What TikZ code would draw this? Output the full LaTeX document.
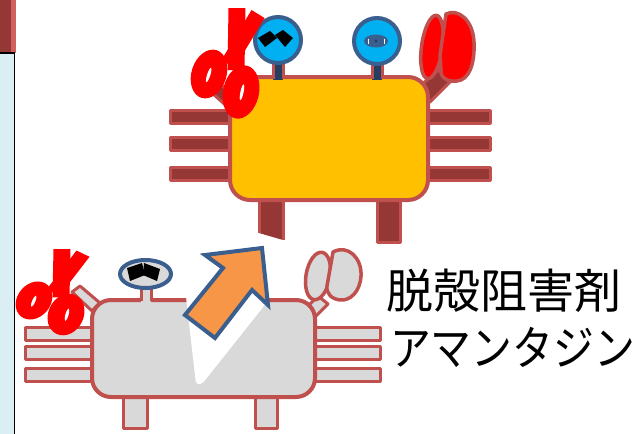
\documentclass[tikz,border=0pt]{standalone}
\usepackage{fontspec}
\newfontfamily\jpfont{Noto Sans CJK JP}
\definecolor{shellline}{HTML}{C0504D}
\definecolor{legdark}{HTML}{953735}
\definecolor{shellgold}{HTML}{FFC000}
\definecolor{shellgray}{HTML}{D9D9D9}
\definecolor{eyecyan}{HTML}{00B0F0}
\definecolor{eyeblue}{HTML}{3A5F8E}
\definecolor{stalknavy}{HTML}{243F60}
\definecolor{arroworange}{HTML}{F79646}
\definecolor{scissorred}{HTML}{FF0000}
\definecolor{panelblue}{HTML}{DAEEF3}
\definecolor{barlight}{HTML}{D0605C}
\tikzset{
  legtop/.style={fill=legdark, draw=shellline, line width=3pt},
  leggray/.style={fill=shellgray, draw=shellline, line width=3pt},
  shelltop/.style={fill=shellgold, draw=shellline, line width=4pt, rounded corners=20pt},
  shellbot/.style={fill=shellgray, draw=shellline, line width=4pt, rounded corners=19pt},
  lobetop/.style={fill=scissorred, draw=shellline, line width=3.5pt},
  lobebot/.style={fill=shellgray, draw=shellline, line width=3.5pt},
  eyering/.style={draw=eyeblue, line width=4pt},
  scissors/.pic={
    % two blades
    \fill[scissorred] (-8.5,0) -- (8.5,0) -- (7.5,62) -- (-9.5,62) -- cycle;
    \fill[scissorred] (27.5,10) -- (14.5,2) -- (-15.5,52) -- (-2.5,60) -- cycle;
    % finger rings with their slits
    \begin{scope}[shift={(-28,66)}, rotate=-18]
      \fill[scissorred] (0,0) ellipse [x radius=17.5, y radius=25];
      \fill[white] (0,1) ellipse [x radius=1.6, y radius=7.5];
    \end{scope}
    \begin{scope}[shift={(4,84)}, rotate=-12]
      \fill[scissorred] (0,0) ellipse [x radius=18, y radius=27];
      \fill[white] (1,0) ellipse [x radius=1.6, y radius=8];
    \end{scope}
  }
}
\begin{document}
\begin{tikzpicture}[x=1pt, y=-1pt, line join=round]
\useasboundingbox (0,0) rectangle (635,434);

% side panel
\fill[panelblue] (0,53) rectangle (14.2,434);
\fill[legdark] (0,0) rectangle (11,53);
\fill[barlight] (11,0) rectangle (16,53);
\draw[black, line width=1.3pt] (0,53) -- (14.2,53) -- (14.2,434);

% ---------- crab with intact shell ----------
\foreach \yy in {116.5,144,174} {
  \draw[legtop] (170,\yy-6.5) rectangle (236,\yy+6.5);
  \draw[legtop] (422,\yy-6.5) rectangle (490,\yy+6.5);
}
% lower legs
\fill[legdark] (259,195) -- (283,195) -- (283,240) -- (259,233) -- cycle;
\draw[shellline, line width=3pt] (259,195) -- (259,233);
\draw[shellline, line width=3pt] (283,195) -- (283,240);
\draw[legtop] (377,195) rectangle (400,242);
% arms
\draw[legtop] (212,93) -- (221,85) -- (240,100) -- (231,110) -- cycle;
\draw[legtop] (418,88) -- (438,70) -- (452,80) -- (430,102) -- cycle;
% claw
\begin{scope}[shift={(432,47)}, rotate=-8]
  \draw[lobetop] (0,0) ellipse [x radius=10.5, y radius=32];
\end{scope}
\draw[lobetop] (446,14) .. controls (458,8) and (473,20) .. (474,42)
  .. controls (475,64) and (469,80) .. (457,81)
  .. controls (448,82) and (440,78) .. (441,70) -- (440,55) -- cycle;
% shell
\draw[shelltop] (230,77) rectangle (428,200);
% eye stalks
\fill[stalknavy] (273,60) rectangle (283,80);
\draw[shellline, line width=3pt] (273,60) -- (273,79) (283,60) -- (283,79);
\fill[stalknavy] (372,60) rectangle (382,80);
\draw[shellline, line width=3pt] (372,60) -- (372,79) (382,60) -- (382,79);
% eyes
\draw[eyering, fill=eyecyan] (278,40) circle (23);
\fill[black] (258,38) -- (270,31) -- (277,38) -- (265,47) -- cycle;
\fill[black] (275,35) -- (283,30) -- (293,38) -- (285,47) -- cycle;
\draw[eyering, fill=eyecyan] (377,41) circle (23);
\fill[eyeblue] (376,41) ellipse [x radius=12, y radius=6.5];
\draw[white, line width=0.8pt] (368,38.5) -- (368,43.5) (384,38.5) -- (384,43.5);
\fill[stalknavy] (376,41) circle (1.6);
% scissors
\pic at (237,8) {scissors};

% ---------- crab with cracked shell ----------
\foreach \yy in {333.7,352.7,374.7} {
  \draw[leggray] (25,\yy-6.5) rectangle (96,\yy+6.5);
  \draw[leggray] (311,\yy-6.5) rectangle (380,\yy+6.5);
}
\draw[leggray] (123,394) rectangle (147,428);
\draw[leggray] (255,394) rectangle (277,428);
% arms
\draw[leggray] (72,292) -- (80,286) -- (100,303) -- (92,311) -- cycle;
\draw[leggray] (306,308) -- (318,296) -- (328,304) -- (316,316) -- cycle;
% claw
\begin{scope}[shift={(318,276)}, rotate=-10]
  \draw[lobebot] (0,0) ellipse [x radius=12, y radius=24];
\end{scope}
\draw[lobebot] (333,252) .. controls (348,244) and (362,258) .. (361,276)
  .. controls (360,292) and (350,301) .. (340,300)
  .. controls (332,299) and (326,294) .. (327,286) -- cycle;
% shell
\draw[shellbot] (92,300) rectangle (315,397);
% crack in the shell
\fill[white, rounded corners=2pt] (186,297) -- (267,297) -- (264,306) -- (202,384) -- (196,384) -- cycle;
% eye stalk and eye
\fill[shellgray] (141,286) rectangle (151,303);
\draw[shellline, line width=3pt] (141,286) -- (141,301) (151,286) -- (151,301);
\draw[eyering, fill=shellgray] (145.5,274) ellipse [x radius=25.5, y radius=14];
\fill[black] (127,268) -- (142,263) -- (145,275) -- (130,281) -- cycle;
\fill[black] (144,263) -- (160,269) -- (157,281) -- (143,275) -- cycle;
% scissors
\pic[yscale=0.78] at (62,249) {scissors};
% escape arrow
\draw[fill=arroworange, draw=eyeblue, line width=4pt, line join=miter]
  (185,315) -- (223,268) -- (205,255) -- (262,248) -- (268,305) -- (252,290) -- (215,338) -- cycle;

% ---------- labels ----------
\node[font=\jpfont\fontsize{47}{50}\selectfont, inner sep=0pt] (drugclass) at (503.5,291) {脱殻阻害剤};
\node[font=\jpfont\fontsize{47}{50}\selectfont, inner sep=0pt] (drugname) at (512.5,347.5) {\resizebox{245pt}{\height}{アマンタジン}};
\end{tikzpicture}
\end{document}
